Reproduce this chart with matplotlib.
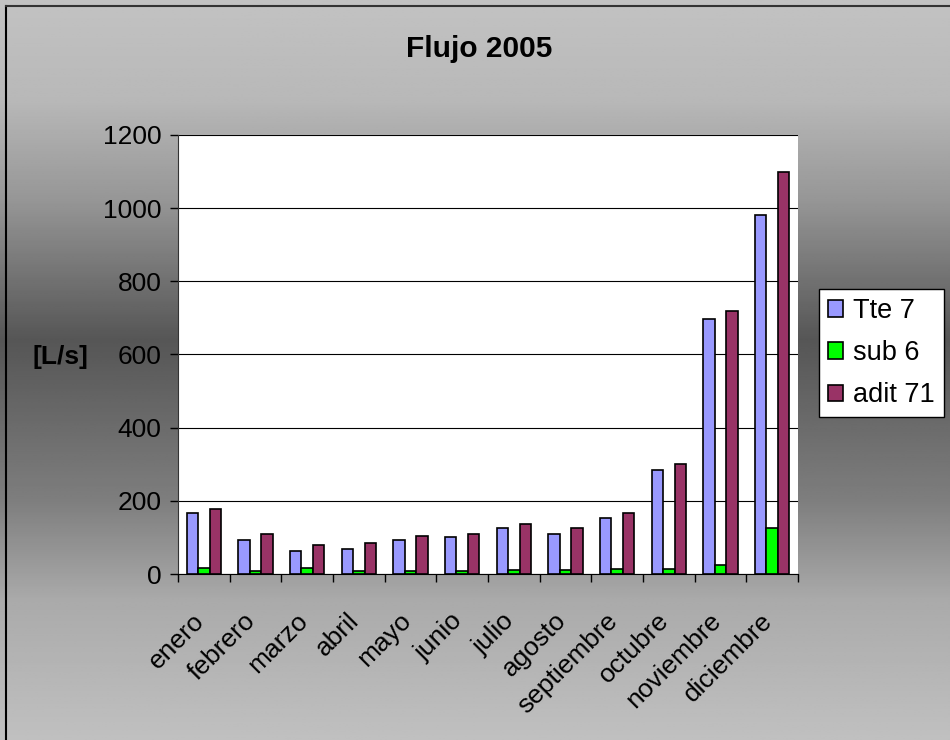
import matplotlib.pyplot as plt
import matplotlib.transforms as mtransforms
import numpy as np

plt.rcParams['font.family'] = ['Liberation Sans', 'DejaVu Sans']

meses = ['enero', 'febrero', 'marzo', 'abril', 'mayo', 'junio', 'julio',
         'agosto', 'septiembre', 'octubre', 'noviembre', 'diciembre']
tte7 = [168, 94, 63, 69, 94, 100, 125, 110, 152, 285, 698, 980]
sub6 = [16, 9, 16, 9, 9, 9, 10, 10, 14, 14, 25, 125]
adit71 = [178, 110, 79, 84, 105, 110, 136, 126, 168, 300, 720, 1100]

series = [('Tte 7', tte7, '#9999ff'),
          ('sub 6', sub6, '#00ff00'),
          ('adit 71', adit71, '#993366')]

fig = plt.figure(figsize=(9.5, 7.4), dpi=100)

# grey background, light at the edges and darker in the middle
bg = fig.add_axes([0, 0, 1, 1], zorder=-10)
yy = np.linspace(0, 740, 400)
shade = np.interp(yy, [0, 100, 200, 340, 500, 600, 740],
                  [194, 184, 150, 86, 126, 170, 192]) / 255
bg.imshow(np.repeat(shade[:, None], 2, axis=1), cmap='gray', vmin=0, vmax=1,
          aspect='auto', extent=[0, 1, 0, 1], origin='upper')
bg.plot([0.006, 0.006], [0, 0.992], color='black', lw=1.5)
bg.plot([0.006, 1], [0.992, 0.992], color='#333333', lw=1.5)
bg.set_xlim(0, 1)
bg.set_ylim(0, 1)
bg.axis('off')

ax = fig.add_axes([178 / 950, 1 - 574 / 740, 620 / 950, 439 / 740])
ax.set_facecolor('white')

x = np.arange(len(meses))
w = 1 / 4.5
for i, (nombre, vals, color) in enumerate(series):
    ax.bar(x + (i - 1) * w, vals, width=w, color=color, edgecolor='black',
           linewidth=1.2, label=nombre, zorder=3)

ax.set_xlim(-0.5, len(meses) - 0.5)
ax.set_ylim(0, 1200)
ax.set_yticks(np.arange(0, 1201, 200))
ax.yaxis.grid(True, color='black', linewidth=0.8)
ax.set_axisbelow(True)

ax.set_xticks(x)
ax.set_xticklabels(meses, rotation=45, ha='right', rotation_mode='anchor',
                   fontsize=19)
ax.set_xticks(np.arange(-0.5, len(meses)), minor=True)
ax.tick_params(axis='x', which='major', length=0, pad=14)
ax.tick_params(axis='x', which='minor', length=6, width=1, direction='out')
ax.tick_params(axis='y', length=6, width=1, direction='out', labelsize=19,
               pad=6)

# nudge the slanted month names a bit left and down
shift = mtransforms.ScaledTranslation(-0.12, -0.15, fig.dpi_scale_trans)
for lbl in ax.get_xticklabels():
    lbl.set_transform(lbl.get_transform() + shift)

for s in ['top', 'right']:
    ax.spines[s].set_visible(False)
ax.spines['left'].set_color('#333333')
ax.spines['bottom'].set_color('black')

fig.text(479.5 / 950, 1 - 49 / 740, 'Flujo 2005', fontsize=21.5,
         fontweight='bold', ha='center', va='center')
fig.text(60 / 950, 1 - 357 / 740, '[L/s]', fontsize=19, fontweight='bold',
         ha='center', va='center')

leg = fig.legend(loc='upper left', bbox_to_anchor=(819 / 950, 1 - 289 / 740),
                 fontsize=19.5, frameon=True, fancybox=False, shadow=False,
                 handlelength=0.55, handleheight=0.55, handletextpad=0.37,
                 labelspacing=0.6, borderpad=0.33, borderaxespad=0)
leg.get_frame().set_edgecolor('black')
leg.get_frame().set_linewidth(1)
leg.get_frame().set_alpha(1)

fig.savefig('out.png', dpi=100)
